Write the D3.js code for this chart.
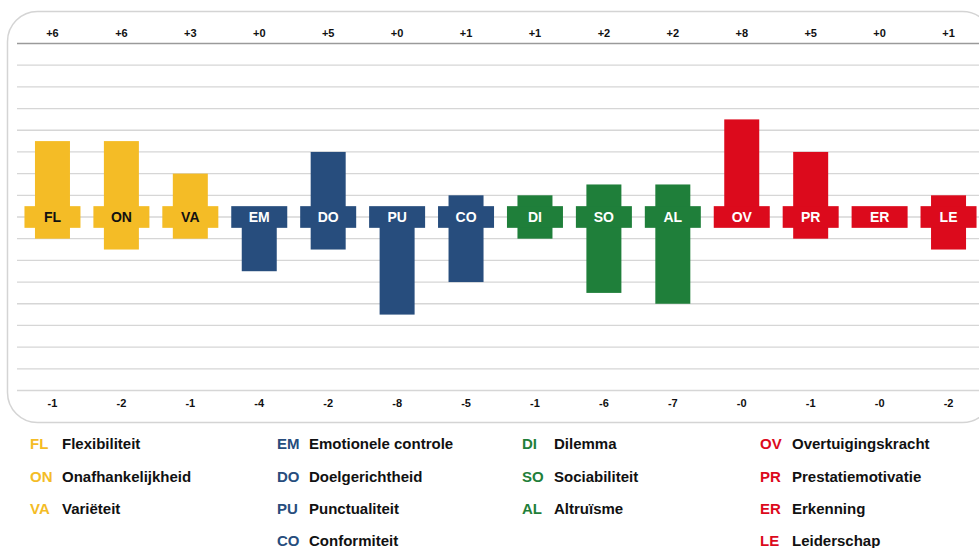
<!DOCTYPE html>
<html>
<head>
<meta charset="utf-8">
<script src="https://d3js.org/d3.v7.min.js"></script>
<style>
  body { margin: 0; background: #fff; }
  svg { display: block; font-family: "Liberation Sans", Arial, sans-serif; }
</style>
</head>
<body>
<div id="chart"></div>
<script>
// codes, names and groups of the scales
const codes = ["FL", "ON", "VA", "EM", "DO", "PU", "CO", "DI", "SO", "AL", "OV", "PR", "ER", "LE"];
const names = ["Flexibiliteit", "Onafhankelijkheid", "Variëteit", "Emotionele controle", "Doelgerichtheid",
  "Punctualiteit", "Conformiteit", "Dilemma", "Sociabiliteit", "Altruïsme", "Overtuigingskracht",
  "Prestatiemotivatie", "Erkenning", "Leiderschap"];
const groups = [0, 0, 0, 1, 1, 1, 1, 2, 2, 2, 3, 3, 3, 3];
// scores up and down
const plusValues = [6, 6, 3, 0, 5, 0, 1, 1, 2, 2, 8, 5, 0, 1];
const minusValues = [1, 2, 1, 4, 2, 8, 5, 1, 6, 7, 0, 1, 0, 2];
const topLabels = ["+6", "+6", "+3", "+0", "+5", "+0", "+1", "+1", "+2", "+2", "+8", "+5", "+0", "+1"];
const bottomLabels = ["-1", "-2", "-1", "-4", "-2", "-8", "-5", "-1", "-6", "-7", "-0", "-1", "-0", "-2"];

const groupColors = ["#F4BC26", "#274D7D", "#1F7F3A", "#DC0A1C"];
const labelColors = ["#111", "#fff", "#fff", "#fff"];

const W = 979, H = 548;

const svg = d3.select("#chart").append("svg")
  .attr("width", W)
  .attr("height", H);

// rounded frame
svg.append("rect")
  .attr("x", 7.5).attr("y", 11.5)
  .attr("width", 985).attr("height", 411)
  .attr("rx", 30).attr("ry", 30)
  .attr("fill", "none")
  .attr("stroke", "#d4d4d4")
  .attr("stroke-width", 1.5);

const x = d3.scaleBand().domain(codes).range([18, 983]);
const y = d3.scaleLinear().domain([-16, 16]).range([390.5, 43.5]);

// grid lines
const gridVals = d3.range(-16, 17, 2);
svg.append("g").selectAll("line")
  .data(gridVals)
  .enter()
  .append("line")
  .attr("x1", 17).attr("x2", W)
  .attr("y1", d => y(d)).attr("y2", d => y(d))
  .attr("stroke", d => d === 16 ? "#9a9a9a" : "#d6d6d6")
  .attr("stroke-width", 1.3);

const barW = 35, boxW = 56;
const cols = codes.map((c, i) => ({ code: c, i: i, g: groups[i], plus: plusValues[i], minus: minusValues[i] }));

const col = svg.append("g").selectAll("g")
  .data(cols)
  .enter()
  .append("g")
  .attr("transform", d => `translate(${x(d.code) + x.bandwidth() / 2},0)`);

// upward bar
col.filter(d => d.plus > 0).append("rect")
  .attr("x", -barW / 2)
  .attr("width", barW)
  .attr("y", d => y(1 + d.plus))
  .attr("height", d => y(1) - y(1 + d.plus) + 1)
  .attr("fill", d => groupColors[d.g]);

// downward bar
col.filter(d => d.minus > 0).append("rect")
  .attr("x", -barW / 2)
  .attr("width", barW)
  .attr("y", y(-1) - 1)
  .attr("height", d => y(-1 - d.minus) - y(-1) + 1)
  .attr("fill", d => groupColors[d.g]);

// label box
col.append("rect")
  .attr("x", -boxW / 2)
  .attr("width", boxW)
  .attr("y", y(1))
  .attr("height", y(-1) - y(1))
  .attr("fill", d => groupColors[d.g]);

col.append("text")
  .attr("y", y(0))
  .attr("dy", "0.36em")
  .attr("text-anchor", "middle")
  .attr("font-size", "14px")
  .attr("font-weight", "bold")
  .attr("fill", d => labelColors[d.g])
  .text(d => d.code);

// top and bottom scores
col.append("text")
  .attr("y", 33)
  .attr("dy", "0.35em")
  .attr("text-anchor", "middle")
  .attr("font-size", "11px")
  .attr("font-weight", "bold")
  .attr("fill", "#111")
  .text(d => topLabels[d.i]);

col.append("text")
  .attr("y", 403)
  .attr("dy", "0.35em")
  .attr("text-anchor", "middle")
  .attr("font-size", "11px")
  .attr("font-weight", "bold")
  .attr("fill", "#111")
  .text(d => bottomLabels[d.i]);

// legend
const legendX = [30, 277, 522, 760];
const legendY0 = 444, legendStep = 32.3;
const rowInGroup = groups.map((g, i) => groups.slice(0, i).filter(v => v === g).length);

const leg = svg.append("g").selectAll("g")
  .data(cols)
  .enter()
  .append("g")
  .attr("transform", d => `translate(${legendX[d.g]},${legendY0 + rowInGroup[d.i] * legendStep})`);

leg.append("text")
  .attr("dy", "0.36em")
  .attr("font-size", "15px")
  .attr("font-weight", "bold")
  .attr("fill", d => groupColors[d.g])
  .text(d => d.code);

leg.append("text")
  .attr("x", 32)
  .attr("dy", "0.36em")
  .attr("font-size", "15px")
  .attr("font-weight", "bold")
  .attr("fill", "#111")
  .text(d => names[d.i]);
</script>
</body>
</html>
